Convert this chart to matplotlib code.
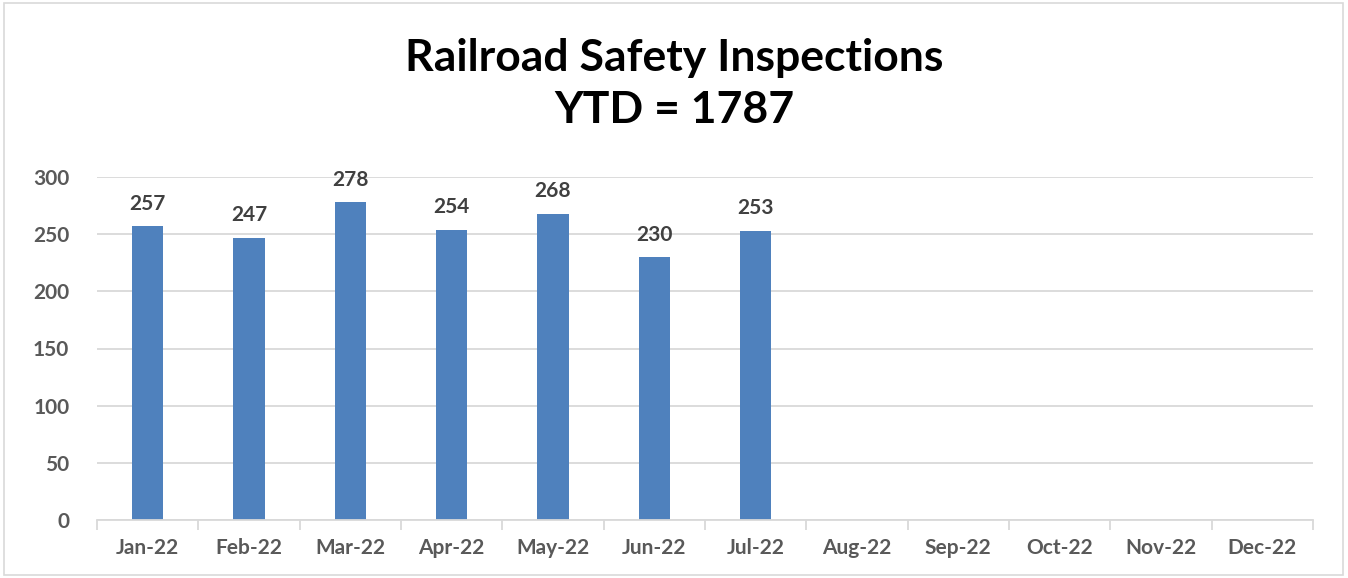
import matplotlib
matplotlib.use("Agg")
import matplotlib.pyplot as plt
import numpy as np
from matplotlib.patches import Rectangle

months = ["Jan-22", "Feb-22", "Mar-22", "Apr-22", "May-22", "Jun-22",
          "Jul-22", "Aug-22", "Sep-22", "Oct-22", "Nov-22", "Dec-22"]
inspections = [257, 247, 278, 254, 268, 230, 253]
title_line1 = "Railroad Safety Inspections"
title_line2 = "YTD = 1787"
yticks = [0, 50, 100, 150, 200, 250, 300]

plt.rcParams['font.family'] = ['Lato', 'DejaVu Sans']

fig = plt.figure(figsize=(13.48, 5.78), dpi=100)
ax = fig.add_axes([97/1348, 1-520/578, (1313-97)/1348, (520-177)/578])

x = np.arange(len(months))
xv = x[:len(inspections)]
ax.bar(xv, inspections, width=0.31, color="#4F81BD", zorder=3)
for xi, v in zip(xv, inspections):
    ax.annotate(str(v), (xi, v), xytext=(0, 9), textcoords="offset points",
                ha="center", va="bottom", fontsize=15, fontweight="bold",
                color="#404040")

ax.set_xlim(-0.5, len(months) - 0.5)
ax.set_ylim(0, 300)
ax.set_yticks(yticks)
ax.set_xticks(x)
ax.set_xticklabels(months)
ax.set_xticks(np.arange(-0.5, len(months)), minor=True)
ax.tick_params(axis="x", which="major", length=0, pad=13, labelsize=15,
               labelcolor="#595959")
ax.tick_params(axis="x", which="minor", length=7, color="#D9D9D9", width=1.3)
ax.tick_params(axis="y", length=0, pad=20, labelsize=15, labelcolor="#595959")
for lab in ax.get_xticklabels() + ax.get_yticklabels():
    lab.set_fontweight("bold")

ax.grid(axis="y", color="#D9D9D9", linewidth=1.3, zorder=0)
for s in ["top", "right", "left"]:
    ax.spines[s].set_visible(False)
ax.spines["bottom"].set_color("#D9D9D9")
ax.spines["bottom"].set_linewidth(1.3)
ax.spines["bottom"].set_zorder(4)

fig.text(0.5, 1-58/578, title_line1, ha="center", va="center",
         fontsize=32, fontweight="bold", color="black")
fig.text(0.5, 1-110/578, title_line2, ha="center", va="center",
         fontsize=32, fontweight="bold", color="black")

fig.patches.append(Rectangle((4/1348, 3/578), 1339/1348, 572/578,
                             transform=fig.transFigure, fill=False,
                             edgecolor="#D9D9D9", linewidth=1.2))

fig.savefig("out.png", dpi=100)
